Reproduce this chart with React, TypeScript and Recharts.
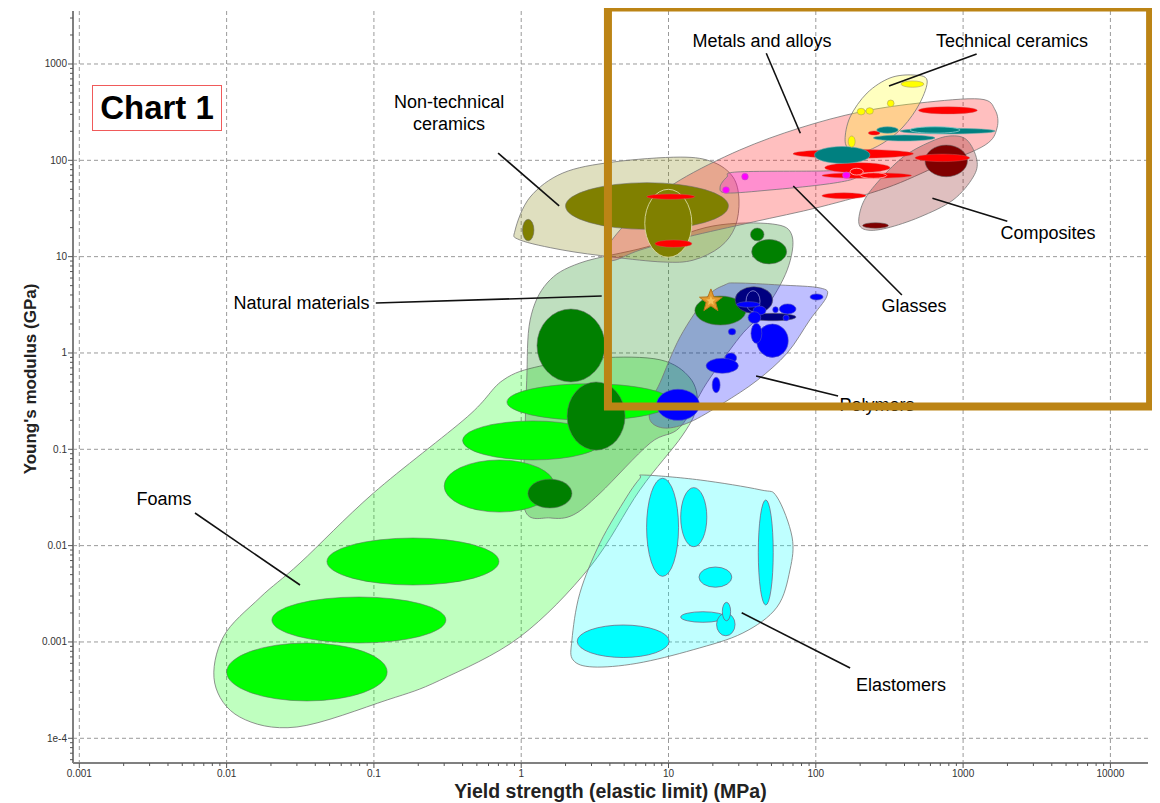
import React from 'react'
import { ScatterChart, Scatter, XAxis, YAxis, CartesianGrid, ReferenceArea } from 'recharts'

type Pt = [number, number]
// [yield min, yield max, modulus min, modulus max]
type Box = [number, number, number, number]

const xDecades = [0.001, 0.01, 0.1, 1, 10, 100, 1000, 10000]
const xDecadeLabels = ['0.001', '0.01', '0.1', '1', '10', '100', '1000', '10000']
const yDecades = [1e-4, 0.001, 0.01, 0.1, 1, 10, 100, 1000]
const yDecadeLabels = ['1e-4', '0.001', '0.01', '0.1', '1', '10', '100', '1000']

// material family envelopes (yield strength MPa, modulus GPa)
const foamsEnvelope: Pt[] = [
  [0.75, 0.52], [1.34, 0.73], [3.43, 0.89], [8.75, 0.85], [14, 0.55], [15.6, 0.29], [12.5, 0.141],
  [6.4, 0.038], [2.93, 0.006], [0.98, 0.00113], [0.28, 0.0004], [0.123, 0.00025], [0.03, 0.000131],
  [0.0123, 0.000166], [0.0083, 0.000375], [0.0095, 0.00113], [0.0169, 0.0029], [0.0315, 0.0066],
  [0.099, 0.035], [0.43, 0.217]
]
const naturalEnvelope: Pt[] = [
  [1.5, 5.33], [2.51, 8.6], [7.1, 12.6], [20, 20.8], [51, 21.8], [69, 16.4], [64, 7.3], [45, 2.8],
  [30.5, 1.47], [18.2, 0.49], [12, 0.17], [7.5, 0.116], [3.43, 0.035], [2.25, 0.0208], [1.57, 0.0194],
  [1.06, 0.0234], [1.06, 0.125], [1.09, 0.52], [1.15, 2.2]
]
const polymerEnvelope: Pt[] = [
  [29.2, 5.33], [57, 5.08], [107, 4.73], [119, 3.9], [91, 2.2], [64, 1.0], [40, 0.52], [23.4, 0.3],
  [14, 0.192], [9.5, 0.166], [7.5, 0.2], [7.7, 0.325], [8.75, 0.49], [12, 1.47], [18.2, 3.8], [24.2, 5.1]
]
const elastomerEnvelope: Pt[] = [
  [6.9, 0.054], [16.4, 0.048], [41.8, 0.038], [54.5, 0.032], [69, 0.0123], [66.8, 0.0056],
  [54.5, 0.0023], [32, 0.00124], [14.7, 0.00083], [6.1, 0.0006], [3.07, 0.00055], [2.25, 0.00065],
  [2.21, 0.00105], [2.5, 0.0032], [3.43, 0.0107], [5.2, 0.032], [6.4, 0.05]
]
const ceramicEnvelope: Pt[] = [
  [0.91, 18.9], [1.15, 41.6], [1.92, 73.9], [4.2, 96], [12, 108], [20, 96], [27.4, 67], [30.1, 38.7],
  [28.3, 20.3], [22.4, 12.6], [14.7, 9.2], [9.2, 8.8], [4.2, 9.9], [1.92, 11.7], [0.98, 14.9]
]
const metalEnvelope: Pt[] = [
  [3.7, 9.7], [4.13, 14.9], [6.4, 30.5], [12, 62.5], [30.5, 128], [78, 217], [200, 318], [509, 394],
  [1300, 433], [1650, 333], [1700, 217], [1410, 144], [697, 89.5], [300, 51.6], [107, 32.8],
  [37.5, 22.9], [13.4, 16], [6.4, 11.7], [4.33, 9.2]
]
const glassEnvelope: Pt[] = [
  [22.4, 52.8], [24.9, 67], [29.2, 75.7], [107, 77.4], [179, 79.4], [193, 70.4], [171, 62.5],
  [107, 55.5], [48.9, 49.2], [24.9, 45.8]
]
const techEnvelope: Pt[] = [
  [457, 769], [569, 682], [509, 394], [391, 222], [286, 151], [209, 122], [171, 128], [158, 163],
  [171, 282], [223, 500], [319, 716]
]
const compositeEnvelope: Pt[] = [
  [1060, 163], [1240, 101], [1170, 67], [854, 38.7], [509, 25.8], [304, 19.8], [223, 18.9], [196, 22.3],
  [209, 36.1], [260, 58.2], [391, 108], [596, 155], [815, 179]
]

// individual materials
const foamBubbles: Box[] = [
  [0.01, 0.123, 0.000244, 0.000975], [0.0203, 0.308, 0.000975, 0.00293], [0.048, 0.706, 0.0039, 0.012],
  [0.3, 1.69, 0.0223, 0.0775], [0.4, 3.6, 0.0775, 0.197], [0.8, 10.6, 0.2, 0.48]
]
const naturalBubbles: Box[] = [
  [1.28, 3.7, 0.5, 2.86], [2.05, 5.07, 0.098, 0.5], [1.11, 2.21, 0.0246, 0.049], [36, 44.5, 14.6, 19.8],
  [36.7, 63.4, 8.4, 15.1], [15.1, 33.6, 1.95, 3.9]
]
const ceramicBubbles: Box[] = [[2, 25.5, 19.2, 58.6], [1.02, 1.22, 14.6, 24.4]]
const ceramicOutlined: Box[] = [[6.9, 14.4, 9.85, 50]]
const polymerNavy: Box[] = [[28.3, 51, 2.58, 4.88], [35.7, 73.4, 2.16, 2.58]]
const polymerNavyOutlined: Box[] = [[33.6, 41.8, 2.68, 4.43]]
const polymerBlue: Box[] = [
  [29, 41.8, 2.98, 3.41], [37.5, 45.9, 2.48, 3.07], [34.7, 42.3, 2.03, 2.68], [51, 55.6, 2.62, 3.02],
  [56.5, 73.4, 2.54, 3.23], [59.9, 66, 2.16, 2.48], [91.4, 112, 3.55, 4.1], [25.5, 28.6, 1.54, 1.8],
  [39.7, 65, 0.9, 2.0], [36.3, 43, 1.26, 2.03], [24.2, 29, 0.79, 1.0], [18, 29.8, 0.615, 0.88],
  [19.8, 22.4, 0.387, 0.56], [8.3, 16.2, 0.2, 0.42]
]
const elastomerBubbles: Box[] = [
  [7.1, 11.7, 0.0048, 0.05], [12.1, 18.2, 0.00975, 0.04], [40.7, 51.4, 0.00242, 0.0298],
  [16.1, 26.9, 0.0037, 0.006], [12.1, 24.2, 0.0016, 0.00206], [21.2, 28.3, 0.00116, 0.00199],
  [23.2, 26.4, 0.00166, 0.00258], [2.4, 10.1, 0.00069, 0.0015]
]
const compositeBubbles: Box[] = [[551, 1070, 67.6, 144], [208, 311, 19.7, 22.5]]
const metalBubbles: Box[] = [
  [7.1, 15.1, 39.4, 44.7], [8.1, 14.4, 12.5, 14.9], [110, 219, 40, 46], [227, 273, 183, 202],
  [70, 460, 105, 130], [497, 1250, 303, 360], [115, 319, 74.4, 94.5], [110, 448, 65, 74.4],
  [471, 1110, 97, 116]
]
const metalOutlined: Box[] = [[171, 210, 70.4, 82.7], [200, 303, 65, 74.4]]
const tealBubbles: Box[] = [[98, 233, 93, 139], [246, 644, 159, 183], [259, 363, 191, 223], [373, 1650, 188, 215]]
const tealOutlined: Box[] = [[436, 953, 191, 223]]
const techBubbles: Box[] = [
  [379, 542, 573, 667], [306, 340, 360, 423], [191, 216, 296, 347], [219, 246, 301, 352], [166, 185, 137, 179]
]
const glassBubbles: Box[] = [[31.4, 34.8, 62.5, 73.3], [23.3, 25.9, 45.5, 53.2], [152, 171, 65, 75.7]]

const specimen: Pt = [19.4, 3.47]

const labelNames = [
  'Metals and alloys', 'Technical ceramics', 'Non-technical\nceramics', 'Natural materials', 'Glasses',
  'Composites', 'Polymers', 'Foams', 'Elastomers'
]
const labelX = [43.1, 2150, 0.324, 0.0322, 464, 3770, 260, 0.00376, 379]
const labelY = [1730, 1730, 310, 3.3, 3.08, 17.6, 0.288, 0.0305, 0.000357]
const leaderLines: [Pt, Pt][] = [
  [[46.1, 1291], [78.5, 191]],
  [[1236, 1270], [314, 591]],
  [[0.697, 119], [1.81, 33.6]],
  [[0.103, 3.3], [3.52, 3.9]],
  [[70.3, 54.2], [384, 4.0]],
  [[619, 40.3], [1995, 23.3]],
  [[39.3, 0.577], [141.6, 0.358]],
  [[0.0061, 0.0218], [0.0315, 0.0039]],
  [[31.4, 0.00201], [171, 0.000537]]
]
const highlight = { x1: 3.88, x2: 18600, y1: 0.2786, y2: 3860 }

const X_DOMAIN = [0.000906, 18000]
const Y_DOMAIN = [5.54e-5, 3549]

const minors = (decades: number[], lo: number, hi: number) => {
  const out: number[] = []
  ;[decades[0] / 10, ...decades].forEach((d) => {
    for (let k = 2; k <= 9; k++) {
      const v = d * k
      if (v >= lo && v <= hi) out.push(v)
    }
  })
  return out
}
const xTicks = [...xDecades, ...minors(xDecades, X_DOMAIN[0], X_DOMAIN[1])].sort((a, b) => a - b)
const yTicks = [...yDecades, ...minors(yDecades, Y_DOMAIN[0], Y_DOMAIN[1])].sort((a, b) => a - b)

const decadeIndex = (list: number[], v: number) =>
  list.findIndex((d) => Math.abs(Math.log10(d) - Math.log10(v)) < 1e-6)

const XTick = (props: any) => {
  const { x, y, payload } = props
  const i = decadeIndex(xDecades, payload.value)
  return (
    <g>
      <line x1={x} x2={x} y1={y} y2={y + (i >= 0 ? 5 : 3)} stroke="#555" />
      {i >= 0 && (
        <text x={x} y={y + 7} dy="0.71em" textAnchor="middle" fontSize={10} fill="#333">
          {xDecadeLabels[i]}
        </text>
      )}
    </g>
  )
}

const YTick = (props: any) => {
  const { x, y, payload } = props
  const i = decadeIndex(yDecades, payload.value)
  return (
    <g>
      <line x1={x - (i >= 0 ? 5 : 3)} x2={x} y1={y} y2={y} stroke="#555" />
      {i >= 0 && (
        <text x={x - 6} y={y} dy="0.35em" textAnchor="end" fontSize={10} fill="#333">
          {yDecadeLabels[i]}
        </text>
      )}
    </g>
  )
}

const closedPath = (pts: { x: number; y: number }[]) => {
  const n = pts.length
  let d = `M${pts[0].x},${pts[0].y}`
  for (let i = 0; i < n; i++) {
    const p0 = pts[(i - 1 + n) % n]
    const p1 = pts[i]
    const p2 = pts[(i + 1) % n]
    const p3 = pts[(i + 2) % n]
    d += `C${p1.x + (p2.x - p0.x) / 6},${p1.y + (p2.y - p0.y) / 6} ${p2.x - (p3.x - p1.x) / 6},${p2.y - (p3.y - p1.y) / 6} ${p2.x},${p2.y}`
  }
  return d + 'Z'
}

const noDot = () => <g />

const envelope = (key: string, pts: Pt[], color: string) => (
  <Scatter
    key={key}
    data={pts.map(([x, y]) => ({ x, y }))}
    isAnimationActive={false}
    shape={noDot}
    line={(p: any) => (
      <path d={closedPath(p.points)} fill={color} fillOpacity={0.25} stroke="#777" strokeOpacity={0.8} strokeWidth={1} />
    )}
  />
)

const bubbles = (key: string, boxes: Box[], color: string, stroke = '#666', strokeOpacity = 0.55) => (
  <Scatter
    key={key}
    data={boxes.flatMap(([x0, x1, y0, y1]) => [{ x: x0, y: y0 }, { x: x1, y: y1 }])}
    isAnimationActive={false}
    shape={noDot}
    line={(p: any) => {
      const pts = p.points
      const out = []
      for (let i = 0; i + 1 < pts.length; i += 2) {
        const a = pts[i]
        const b = pts[i + 1]
        out.push(
          <ellipse
            key={i}
            cx={(a.x + b.x) / 2}
            cy={(a.y + b.y) / 2}
            rx={Math.abs(b.x - a.x) / 2}
            ry={Math.abs(b.y - a.y) / 2}
            fill={color}
            stroke={stroke}
            strokeOpacity={strokeOpacity}
            strokeWidth={1}
          />
        )
      }
      return <g>{out}</g>
    }}
  />
)

const starShape = (p: any) => {
  const pts = (r: number, ri: number) =>
    Array.from({ length: 10 }, (_, k) => {
      const rr = k % 2 === 0 ? r : ri
      const a = -Math.PI / 2 + (k * Math.PI) / 5
      return `${p.cx + rr * Math.cos(a)},${p.cy + rr * Math.sin(a)}`
    }).join(' ')
  return (
    <g>
      <polygon points={pts(12, 5)} fill="#e39a2d" stroke="#b8741a" strokeWidth={1} />
      <polygon points={pts(5, 2.2)} fill="#f6c25a" />
    </g>
  )
}

const labelShape = (p: any) => {
  const name = String(p.payload?.name ?? p.name ?? '')
  const lines = name.split('\n')
  const lh = 22
  return (
    <text x={p.cx} y={p.cy} textAnchor="middle" fontSize={18} fill="#000">
      {lines.map((t, i) => (
        <tspan key={i} x={p.cx} dy={i === 0 ? -((lines.length - 1) * lh) / 2 + 6.3 : lh}>
          {t}
        </tspan>
      ))}
    </text>
  )
}

export default function App() {
  const labels = labelNames.map((name, i) => ({ x: labelX[i], y: labelY[i], name }))
  const leaders = leaderLines.flatMap(([a, b]) => [{ x: a[0], y: a[1] }, { x: b[0], y: b[1] }])
  return (
    <div style={{ position: 'relative', width: 1150, height: 795, fontFamily: '"Liberation Sans", Arial, sans-serif' }}>
      <ScatterChart width={1150} height={795} margin={{ top: 3, right: 10, bottom: 0, left: 0 }}>
        <CartesianGrid stroke="#9a9a9a" strokeDasharray="4 3" verticalValues={xDecades} horizontalValues={yDecades} />
        <XAxis
          dataKey="x"
          type="number"
          scale="log"
          domain={X_DOMAIN}
          allowDataOverflow
          ticks={xTicks}
          interval={0}
          tickLine={false}
          tickSize={0}
          tickMargin={0}
          tick={XTick}
          height={40}
          axisLine={{ stroke: '#808080', strokeWidth: 2 }}
          label={{
            value: 'Yield strength (elastic limit) (MPa)',
            position: 'insideBottom',
            offset: 5,
            style: { fontWeight: 700, fontSize: 19.5, fill: '#222' }
          }}
        />
        <YAxis
          dataKey="y"
          type="number"
          scale="log"
          domain={Y_DOMAIN}
          allowDataOverflow
          ticks={yTicks}
          interval={0}
          tickLine={false}
          tickSize={0}
          tickMargin={0}
          tick={YTick}
          width={65}
          axisLine={{ stroke: '#808080', strokeWidth: 2 }}
          label={{
            value: "Young's modulus (GPa)",
            angle: -90,
            position: 'insideLeft',
            offset: 22,
            dy: -8,
            style: { textAnchor: 'middle', fontWeight: 700, fontSize: 17, fill: '#222' }
          }}
        />

        {envelope('env-foams', foamsEnvelope, '#00ff00')}
        {envelope('env-natural', naturalEnvelope, '#008000')}
        {envelope('env-polymers', polymerEnvelope, '#0000ff')}
        {envelope('env-elastomers', elastomerEnvelope, '#00ffff')}
        {envelope('env-ceramics', ceramicEnvelope, '#808000')}
        {envelope('env-metals', metalEnvelope, '#ff0000')}
        {envelope('env-glasses', glassEnvelope, '#ff00ff')}
        {envelope('env-tech', techEnvelope, '#ffff00')}
        {envelope('env-composites', compositeEnvelope, '#800000')}

        {bubbles('b-foams', foamBubbles, '#00ff00')}
        {bubbles('b-natural', naturalBubbles, '#008000')}
        {bubbles('b-ceramics', ceramicBubbles, '#808000')}
        {bubbles('b-ceramics-o', ceramicOutlined, '#808000', '#d8d8a0', 0.9)}
        {bubbles('b-navy', polymerNavy, '#000080')}
        {bubbles('b-navy-o', polymerNavyOutlined, '#000080', '#8080d0', 0.9)}
        {bubbles('b-blue', polymerBlue, '#0000ff', '#5050c0', 0.6)}
        {bubbles('b-elastomers', elastomerBubbles, '#00ffff', '#775577', 0.7)}
        {bubbles('b-composites', compositeBubbles, '#800000')}
        {bubbles('b-metals', metalBubbles, '#ff0000', '#cc6666', 0.4)}
        {bubbles('b-metals-o', metalOutlined, '#ff0000', '#ffaaaa', 0.9)}
        {bubbles('b-teal', tealBubbles, '#008080', '#66aaaa', 0.6)}
        {bubbles('b-teal-o', tealOutlined, '#008080', '#7fc8c8', 0.9)}
        {bubbles('b-tech', techBubbles, '#ffff00', '#b0a060', 0.6)}
        {bubbles('b-glass', glassBubbles, '#ff00ff', '#c060c0', 0.6)}

        <Scatter data={[{ x: specimen[0], y: specimen[1] }]} isAnimationActive={false} shape={starShape} />

        <Scatter
          data={leaders}
          isAnimationActive={false}
          shape={noDot}
          line={(p: any) => {
            const pts = p.points
            const out = []
            for (let i = 0; i + 1 < pts.length; i += 2) {
              out.push(<line key={i} x1={pts[i].x} y1={pts[i].y} x2={pts[i + 1].x} y2={pts[i + 1].y} stroke="#111" strokeWidth={1.6} />)
            }
            return <g>{out}</g>
          }}
        />
        <Scatter data={labels} isAnimationActive={false} shape={labelShape} />

        <ReferenceArea fill="none" stroke="#808080" strokeWidth={2} ifOverflow="visible" zIndex={900} />
        <ReferenceArea
          x1={highlight.x1}
          x2={highlight.x2}
          y1={highlight.y1}
          y2={highlight.y2}
          fill="none"
          stroke="#bc8415"
          strokeWidth={8}
          ifOverflow="visible"
          zIndex={1000}
        />
      </ScatterChart>
      <div
        style={{
          position: 'absolute',
          left: 84,
          top: 77,
          width: 130,
          height: 46,
          boxSizing: 'border-box',
          border: '1.5px solid #f05a5a',
          background: '#fff',
          fontWeight: 700,
          fontSize: 33,
          lineHeight: '44px',
          textAlign: 'center',
          color: '#000'
        }}
      >
        Chart 1
      </div>
    </div>
  )
}
